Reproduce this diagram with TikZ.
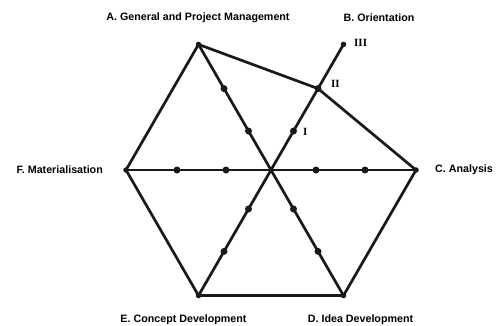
\documentclass[tikz,border=0pt]{standalone}
\usepackage{fontspec}
\setmainfont{Liberation Sans}
\newfontfamily\romfont{Liberation Serif}
\usetikzlibrary{calc}
\begin{document}
\begin{tikzpicture}[x=1pt,y=1pt,
  edge/.style={line width=2.7pt,line cap=round,line join=round,black!90},
  dot/.style={circle,fill=black!90,inner sep=0pt,minimum size=7pt},
  vdot/.style={circle,fill=black!90,inner sep=0pt,minimum size=5.5pt},
  lab/.style={font=\fontsize{10.7}{12}\selectfont\bfseries,inner sep=0pt},
  rom/.style={font=\romfont\fontsize{11}{12}\selectfont\bfseries,inner sep=0pt,anchor=west}]
\useasboundingbox (0,0) rectangle (501,325);
\coordinate (O) at (271,155);
\foreach \n/\a in {A/120,B/60,C/0,D/-60,E/-120,F/180}{
  \coordinate (\n) at ($(O)+(\a:145)$);
  \coordinate (\n1) at ($(O)+(\a:45)$);
  \coordinate (\n2) at ($(O)+(\a:94)$);
}
% spokes
\foreach \n in {A,B,C,D,E,F}{ \draw[edge] (O) -- (\n); }
% outer polygon
\draw[edge] (A) -- (B2) -- (C) -- (D) -- (E) -- (F) -- cycle;
% dots
\foreach \n in {A,B,C,D,E,F}{
  \node[dot] (d\n1) at (\n1) {};
  \node[dot] (d\n2) at (\n2) {};
  \node[vdot] (v\n) at (\n) {};
}
% labels
\node[lab] (la) at (198,307) {A. General and Project Management};
\node[lab] (lb) at (379,307) {B. Orientation};
\node[lab,anchor=west] (lc) at (435,155) {C. Analysis};
\node[lab] (ld) at (360.5,5) {D. Idea Development};
\node[lab] (le) at (183.5,5) {E. Concept Development};
\node[lab,anchor=east] (lf) at (103,155) {F. Materialisation};
\node[rom] (r1) at (303,193) {I};
\node[rom] (r2) at (331,241) {II};
\node[rom] (r3) at (354,282) {III};
\end{tikzpicture}
\end{document}
